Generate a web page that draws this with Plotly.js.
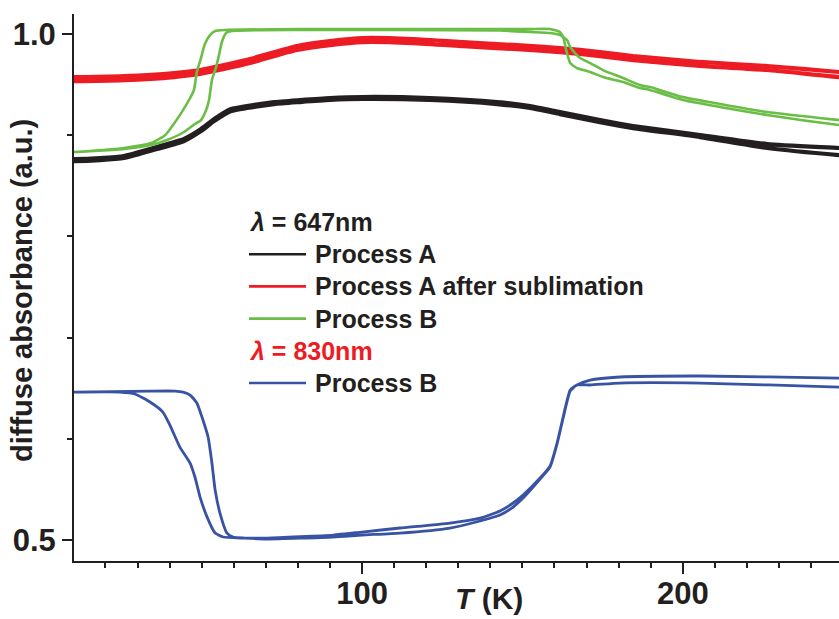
<!DOCTYPE html>
<html><head><meta charset="utf-8">
<script src="https://cdn.plot.ly/plotly-3.0.1.min.js"></script>
<style>html,body{margin:0;padding:0;background:#fff;}#chart{width:839px;height:619px;}</style>
</head><body><div id="chart"></div>
<script>
// ---- data (T in K, diffuse absorbance in a.u.) ----
// Process A, 647 nm (two overlapping branches)
const tempA = [5, 10.2, 18.3, 25.8, 36.1, 44.5, 49.8, 53.9, 59.2, 64.1, 72.6, 80.7, 90.0, 100.3, 121.2, 142.1, 152.4, 161.7, 174.2, 184.5, 205.4, 226.3, 248.7, 255];
const absA1 = [0.8765, 0.8765, 0.8775, 0.8795, 0.8884, 0.8963, 0.9061, 0.9160, 0.9259, 0.9289, 0.9328, 0.9348, 0.9368, 0.9378, 0.9368, 0.9328, 0.9289, 0.9229, 0.9150, 0.9091, 0.9002, 0.8913, 0.8874, 0.8860];
const absA2 = [0.8745, 0.8745, 0.8755, 0.8775, 0.8864, 0.8943, 0.9041, 0.9140, 0.9239, 0.9269, 0.9308, 0.9328, 0.9348, 0.9358, 0.9348, 0.9308, 0.9269, 0.9209, 0.9130, 0.9071, 0.8982, 0.8874, 0.8804, 0.8790];

// Process A after sublimation, 647 nm
const tempAS = [5, 10.2, 25.8, 41.4, 49.5, 57.0, 65.1, 69.4, 79.7, 90.0, 100.3, 115.9, 131.5, 147.1, 161.7, 174.2, 184.5, 205.4, 226.3, 248.7, 255];
const absAS1 = [0.9575, 0.9575, 0.9585, 0.9615, 0.9645, 0.9694, 0.9753, 0.9793, 0.9882, 0.9931, 0.9961, 0.9951, 0.9921, 0.9892, 0.9862, 0.9822, 0.9783, 0.9724, 0.9684, 0.9625, 0.9615];
const absAS2 = [0.9535, 0.9535, 0.9545, 0.9575, 0.9605, 0.9654, 0.9713, 0.9753, 0.9842, 0.9891, 0.9921, 0.9911, 0.9881, 0.9852, 0.9822, 0.9782, 0.9743, 0.9684, 0.9645, 0.9575, 0.9565];

// Process B, 647 nm (hysteresis loop)
const tempB1 = [5, 10.2, 25.8, 34.2, 38.3, 39.5, 40.4, 43.6, 46.4, 47.6, 48.5, 49.8, 51.0, 52.6, 54.2, 57.3, 80.7, 111.8, 143.0, 152.4, 158.6, 161.7, 162.7, 163.3, 163.9, 164.9, 167.0, 171.1, 175.1, 181.4, 186.7, 189.8, 200.1, 226.3, 248.7, 255];
const absB1 = [0.8834, 0.8834, 0.8874, 0.8923, 0.8992, 0.9032, 0.9071, 0.9219, 0.9368, 0.9447, 0.9625, 0.9763, 0.9901, 0.9990, 1.0030, 1.0040, 1.0049, 1.0049, 1.0049, 1.0049, 1.0049, 1.0020, 0.9970, 0.9891, 0.9812, 0.9713, 0.9664, 0.9625, 0.9575, 0.9526, 0.9466, 0.9447, 0.9348, 0.9200, 0.9101, 0.9080];
const tempB2 = [5, 10.2, 25.8, 34.2, 39.2, 44.5, 47.9, 49.8, 51.4, 52.3, 53.2, 54.5, 55.4, 56.3, 57.6, 59.5, 80.7, 111.8, 143.0, 152.4, 158.6, 161.7, 163.9, 164.9, 166.4, 168.0, 171.1, 175.1, 181.4, 186.7, 189.8, 200.1, 226.3, 248.7, 255];
const absB2 = [0.8834, 0.8834, 0.8864, 0.8903, 0.8953, 0.9032, 0.9111, 0.9150, 0.9249, 0.9348, 0.9545, 0.9674, 0.9792, 0.9921, 1.0010, 1.0030, 1.0040, 1.0040, 1.0035, 1.0020, 1.0010, 0.9990, 0.9941, 0.9872, 0.9812, 0.9763, 0.9713, 0.9644, 0.9565, 0.9496, 0.9476, 0.9377, 0.9229, 0.9150, 0.9130];

// Process B, 830 nm (hysteresis loop)
const tempC1 = [5, 10.2, 24.5, 29.2, 33.9, 37.9, 40.1, 43.2, 46.4, 47.9, 49.5, 51.7, 54.2, 56.7, 62.0, 70.4, 91.0, 100.0, 111.8, 127.4, 136.8, 143.0, 147.1, 150.2, 155.5, 158.6, 160.8, 162.7, 164.9, 167.0, 171.1, 180.4, 205.4, 248.7, 255];
const absC1 = [0.6462, 0.6462, 0.6462, 0.6443, 0.6364, 0.6265, 0.6136, 0.5919, 0.5761, 0.5623, 0.5425, 0.5227, 0.5069, 0.5030, 0.5020, 0.5020, 0.5049, 0.5079, 0.5119, 0.5168, 0.5217, 0.5287, 0.5366, 0.5445, 0.5613, 0.5731, 0.5959, 0.6216, 0.6482, 0.6532, 0.6581, 0.6611, 0.6621, 0.6601, 0.6600];
const tempC2 = [5, 10.2, 33.9, 41.7, 44.2, 46.4, 48.5, 50.4, 52.0, 53.2, 54.2, 55.7, 57.9, 59.8, 63.5, 70.4, 91.0, 100.0, 111.8, 127.4, 136.8, 143.0, 147.1, 150.2, 155.5, 158.6, 160.8, 162.7, 164.9, 167.0, 171.1, 180.4, 205.4, 248.7, 255];
const absC2 = [0.6462, 0.6462, 0.6472, 0.6472, 0.6462, 0.6433, 0.6354, 0.6186, 0.6018, 0.5761, 0.5494, 0.5267, 0.5069, 0.5030, 0.5020, 0.5010, 0.5030, 0.5049, 0.5069, 0.5119, 0.5188, 0.5247, 0.5326, 0.5415, 0.5603, 0.5721, 0.5949, 0.6206, 0.6472, 0.6532, 0.6532, 0.6551, 0.6551, 0.6512, 0.6510];

// legend text
const legendLabels = ['<i>λ</i> = 647nm', 'Process A', 'Process A after sublimation', 'Process B', '<i>λ</i> = 830nm', 'Process B'];
const legendHeader = [true, false, false, false, true, false];

// ---- styling ----
const INK = '#231f20';
const COLORS = {black: '#231f20', red: '#ed1c24', green: '#6abd45', blue: '#3953a4'};
const legendColors = [INK, COLORS.black, COLORS.red, COLORS.green, COLORS.red, COLORS.blue];
const FONT = 'Liberation Sans, Arial, Helvetica, sans-serif';

const W = 839, H = 619, ML = 74, MR = 0, MT = 14, MB = 58;
const PW = W - ML - MR, PH = H - MT - MB;
const px = v => (v - ML) / PW;
const py = v => (H - MB - v) / PH;

function loop(t1, a1, t2, a2) {
  return {x: t1.concat(t2.slice().reverse()), y: a1.concat(a2.slice().reverse())};
}

const series = [
  {d: loop(tempA, absA1, tempA, absA2), c: COLORS.black, w: 4.2},
  {d: loop(tempAS, absAS1, tempAS, absAS2), c: COLORS.red, w: 4.2},
  {d: loop(tempB1, absB1, tempB2, absB2), c: COLORS.green, w: 2.6},
  {d: loop(tempC1, absC1, tempC2, absC2), c: COLORS.blue, w: 2.8}
];
const traces = series.map(s => ({
  x: s.d.x, y: s.d.y, type: 'scatter', mode: 'lines',
  line: {color: s.c, width: s.w, shape: 'spline', smoothing: 0.5},
  showlegend: false, hoverinfo: 'skip'
}));

// legend drawn as annotations + sample lines
const rowY0 = 222, rowStep = 32.2;
const annotations = [];
const shapes = [];
legendLabels.forEach((lab, i) => {
  const yy = py(rowY0 + i * rowStep);
  if (legendHeader[i]) {
    annotations.push({xref: 'paper', yref: 'paper', x: px(247), y: yy, xanchor: 'left', yanchor: 'middle',
      text: lab, showarrow: false, font: {family: FONT, size: 25, weight: 'bold', color: legendColors[i]}});
  } else {
    shapes.push({type: 'line', xref: 'paper', yref: 'paper', x0: px(249), x1: px(306), y0: yy, y1: yy,
      line: {color: legendColors[i], width: 2.6}});
    annotations.push({xref: 'paper', yref: 'paper', x: px(313), y: yy, xanchor: 'left', yanchor: 'middle',
      text: lab, showarrow: false, font: {family: FONT, size: 25, weight: 'bold', color: INK}});
  }
});
// axis titles
annotations.push({xref: 'paper', yref: 'paper', x: px(489), y: py(598), xanchor: 'center', yanchor: 'middle',
  text: '<i>T</i> (K)', showarrow: false, font: {family: FONT, size: 30, weight: 'bold', color: INK}});
annotations.push({xref: 'paper', yref: 'paper', x: px(22), y: py(291), xanchor: 'center', yanchor: 'middle',
  textangle: -90, text: 'diffuse absorbance (a.u.)', showarrow: false,
  font: {family: FONT, size: 29, weight: 'bold', color: INK}});

const layout = {
  width: W, height: H,
  margin: {l: ML, r: MR, t: MT, b: MB, pad: 0},
  paper_bgcolor: '#ffffff', plot_bgcolor: '#ffffff',
  showlegend: false,
  font: {family: FONT, color: INK},
  xaxis: {
    range: [10.2, 248.7], showgrid: false, zeroline: false,
    showline: true, linecolor: INK, linewidth: 2,
    ticks: 'outside', ticklen: 11, tickwidth: 2, tickcolor: INK,
    tick0: 0, dtick: 100, ticklabelstandoff: -7,
    tickfont: {family: FONT, size: 31, weight: 'bold', color: INK},
    minor: {tick0: 0, dtick: 10, ticks: 'outside', ticklen: 5, tickwidth: 2, tickcolor: INK, showgrid: false}
  },
  yaxis: {
    range: [0.4793, 1.0198], showgrid: false, zeroline: false,
    showline: true, linecolor: INK, linewidth: 2,
    ticks: 'outside', ticklen: 10, tickwidth: 2, tickcolor: INK,
    tick0: 0, dtick: 0.5, tickformat: '.1f',
    tickfont: {family: FONT, size: 31, weight: 'bold', color: INK},
    minor: {tick0: 0, dtick: 0.1, ticks: 'outside', ticklen: 5, tickwidth: 2, tickcolor: INK, showgrid: false}
  },
  annotations: annotations,
  shapes: shapes
};

Plotly.newPlot('chart', traces, layout, {displayModeBar: false, staticPlot: true});
</script>
</body></html>
